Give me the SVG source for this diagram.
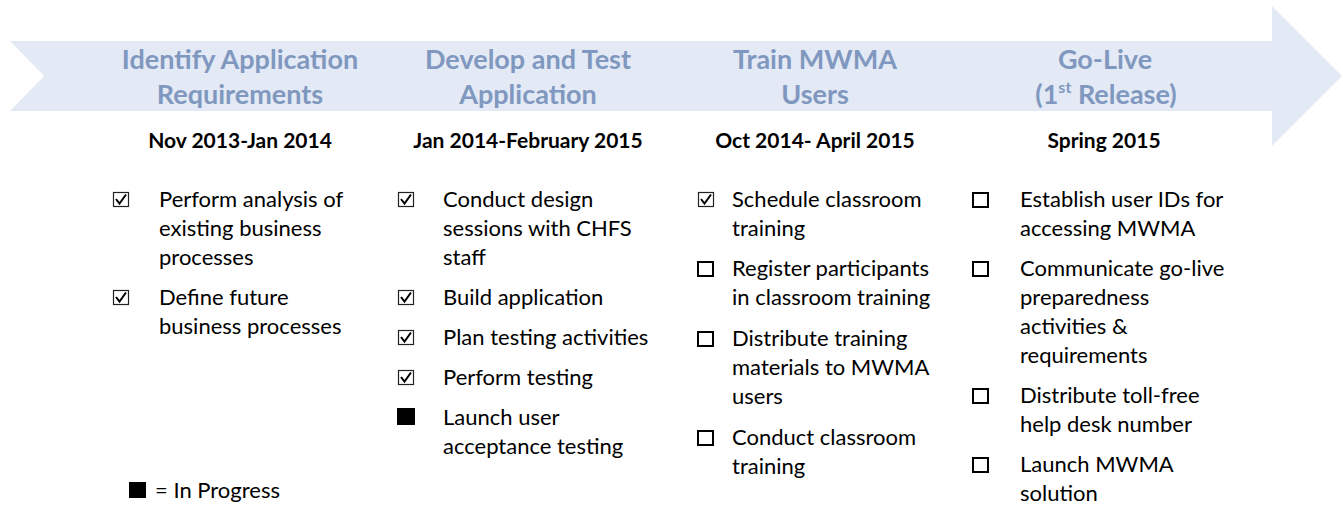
<svg xmlns="http://www.w3.org/2000/svg" width="1343" height="531" viewBox="0 0 1343 531">
<style>
.phase{font-family:Lato,"Liberation Sans",sans-serif;font-weight:bold;font-size:27px;fill:#8098BF;text-anchor:middle}
.date{font-family:Lato,"Liberation Sans",sans-serif;font-weight:bold;font-size:21px;fill:#000;text-anchor:middle}
.item{font-family:Lato,"Liberation Sans",sans-serif;font-size:22px;fill:#000}
.chk{fill:none;stroke:#222;stroke-width:1.2}
.tick{fill:none;stroke:#000;stroke-width:2}
.box{fill:none;stroke:#000;stroke-width:2}
.fill{fill:#000}
</style>
<defs>
<g id="checked"><rect class="chk" x="0.5" y="0.5" width="15" height="14"/><path class="tick" d="M3 7 L6.5 11.5 L13 2.5"/></g>
<g id="empty"><rect class="box" x="1" y="1" width="15" height="14"/></g>
<g id="prog"><rect class="fill" x="0" y="0" width="18" height="17"/></g>
</defs>
<g id="arrow">
<polygon points="10,41 1272,41 1272,6 1342,76 1272,146 1272,111 10,111 44,76" fill="#E3EAF5"/>
</g>
<g id="phase1">
<text class="phase" x="240" y="69">Identify Application</text>
<text class="phase" x="240" y="104">Requirements</text>
<text class="date" x="240" y="148">Nov 2013-Jan 2014</text>
<use href="#checked" x="113" y="192"/>
<text class="item" x="159" y="207">Perform analysis of</text>
<text class="item" x="159" y="236">existing business</text>
<text class="item" x="159" y="265">processes</text>
<use href="#checked" x="113" y="290"/>
<text class="item" x="159" y="305">Define future</text>
<text class="item" x="159" y="334">business processes</text>
</g>
<g id="phase2">
<text class="phase" x="528" y="69">Develop and Test</text>
<text class="phase" x="528" y="104">Application</text>
<text class="date" x="528" y="148">Jan 2014-February 2015</text>
<use href="#checked" x="398" y="192"/>
<text class="item" x="443" y="207">Conduct design</text>
<text class="item" x="443" y="236">sessions with CHFS</text>
<text class="item" x="443" y="265">staff</text>
<use href="#checked" x="398" y="290"/>
<text class="item" x="443" y="305">Build application</text>
<use href="#checked" x="398" y="330"/>
<text class="item" x="443" y="345">Plan testing activities</text>
<use href="#checked" x="398" y="370"/>
<text class="item" x="443" y="385">Perform testing</text>
<use href="#prog" x="397" y="408"/>
<text class="item" x="443" y="425">Launch user</text>
<text class="item" x="443" y="454">acceptance testing</text>
</g>
<g id="phase3">
<text class="phase" x="815" y="69">Train MWMA</text>
<text class="phase" x="815" y="104">Users</text>
<text class="date" x="815" y="148">Oct 2014- April 2015</text>
<use href="#checked" x="698" y="192"/>
<text class="item" x="732" y="207">Schedule classroom</text>
<text class="item" x="732" y="236">training</text>
<use href="#empty" x="697" y="261"/>
<text class="item" x="732" y="276">Register participants</text>
<text class="item" x="732" y="305">in classroom training</text>
<use href="#empty" x="697" y="331"/>
<text class="item" x="732" y="346">Distribute training</text>
<text class="item" x="732" y="375">materials to MWMA</text>
<text class="item" x="732" y="404">users</text>
<use href="#empty" x="697" y="430"/>
<text class="item" x="732" y="445">Conduct classroom</text>
<text class="item" x="732" y="474">training</text>
</g>
<g id="phase4">
<text class="phase" x="1105" y="69">Go-Live</text>
<text class="phase" x="1106" y="104">(1<tspan font-size="16" dy="-11">st</tspan><tspan dy="11"> Release)</tspan></text>
<text class="date" x="1104" y="148">Spring 2015</text>
<use href="#empty" x="972" y="192"/>
<text class="item" x="1020" y="207">Establish user IDs for</text>
<text class="item" x="1020" y="236">accessing MWMA</text>
<use href="#empty" x="972" y="261"/>
<text class="item" x="1020" y="276">Communicate go-live</text>
<text class="item" x="1020" y="305">preparedness</text>
<text class="item" x="1020" y="334">activities &amp;</text>
<text class="item" x="1020" y="363">requirements</text>
<use href="#empty" x="972" y="388"/>
<text class="item" x="1020" y="403">Distribute toll-free</text>
<text class="item" x="1020" y="432">help desk number</text>
<use href="#empty" x="972" y="457"/>
<text class="item" x="1020" y="472">Launch MWMA</text>
<text class="item" x="1020" y="501">solution</text>
</g>
<g id="legend">
<rect class="fill" x="129" y="482" width="17" height="16"/>
<text class="item" x="155" y="498" font-size="20">= In Progress</text>
</g>
</svg>
